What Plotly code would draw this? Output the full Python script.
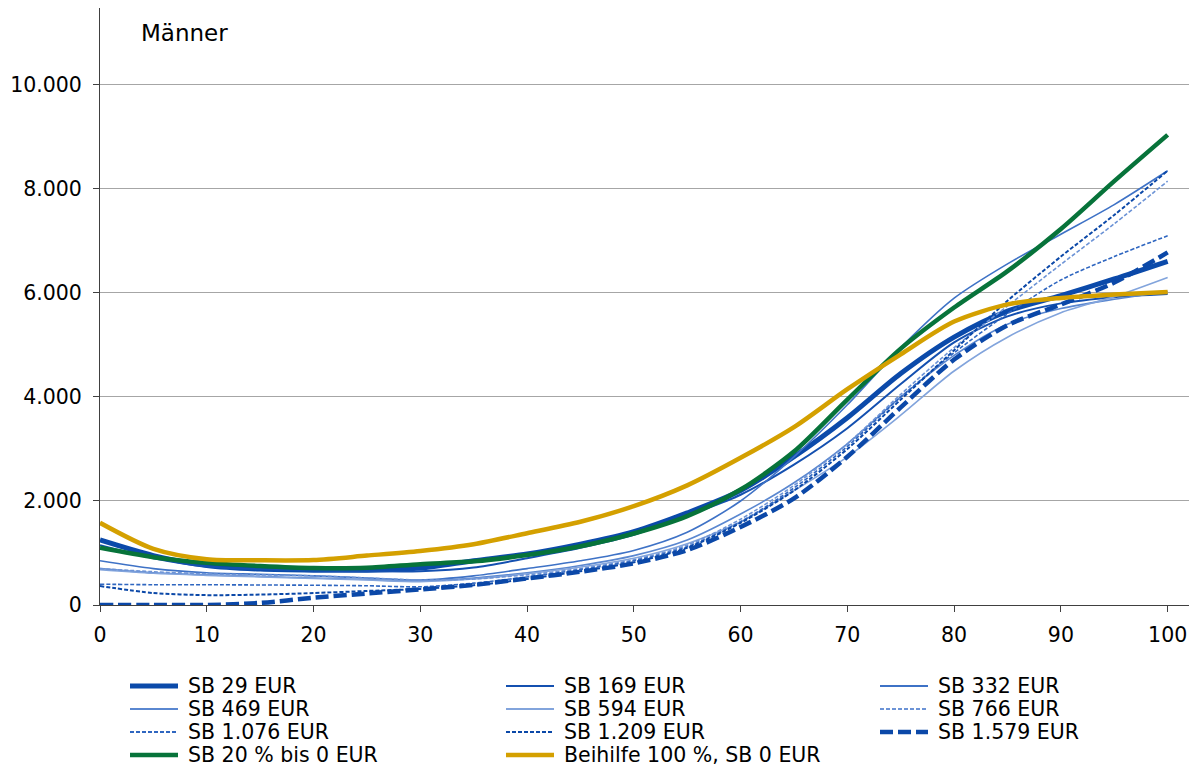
import plotly.graph_objects as go

ages = list(range(0, 101, 5))

sb29 = [1250, 950, 760, 690, 670, 670, 710, 850, 980, 1170, 1410, 1770, 2200, 2850, 3600, 4450, 5150, 5650, 5950, 6270, 6610]
sb169 = [1150, 900, 740, 690, 660, 650, 650, 720, 900, 1100, 1350, 1720, 2120, 2700, 3400, 4250, 5050, 5550, 5800, 5920, 5980]
sb332 = [850, 700, 620, 590, 560, 520, 480, 560, 700, 850, 1050, 1400, 2000, 2850, 3850, 4950, 5900, 6560, 7130, 7700, 8350]
sb469 = [700, 620, 580, 550, 520, 490, 460, 520, 620, 760, 950, 1250, 1750, 2350, 3100, 4000, 4800, 5400, 5700, 5880, 6030]
sb594 = [680, 610, 570, 540, 510, 480, 450, 500, 600, 730, 900, 1180, 1600, 2200, 2850, 3650, 4500, 5150, 5620, 5930, 6300]
sb766 = [700, 640, 600, 580, 560, 520, 480, 500, 580, 700, 870, 1150, 1650, 2300, 3100, 4050, 4950, 5750, 6550, 7330, 8150]
sb1076 = [400, 390, 390, 385, 380, 370, 350, 420, 540, 680, 850, 1120, 1600, 2250, 3050, 4000, 4850, 5600, 6250, 6700, 7100]
sb1209 = [365, 230, 190, 200, 230, 270, 310, 380, 500, 650, 820, 1100, 1580, 2200, 3000, 3950, 4900, 5850, 6700, 7500, 8350]
sb1579 = [0, 0, 0, 40, 140, 220, 300, 385, 510, 640, 800, 1055, 1500, 2050, 2850, 3800, 4720, 5380, 5780, 6200, 6780]
sb20 = [1100, 920, 810, 750, 710, 715, 785, 840, 960, 1130, 1375, 1710, 2220, 2950, 3950, 4930, 5720, 6420, 7230, 8150, 9040]
beihilfe = [1580, 1080, 880, 860, 865, 950, 1040, 1170, 1380, 1600, 1900, 2300, 2830, 3420, 4150, 4820, 5450, 5780, 5905, 5970, 6020]

names = ["SB 29 EUR", "SB 169 EUR", "SB 332 EUR", "SB 469 EUR", "SB 594 EUR", "SB 766 EUR",
         "SB 1.076 EUR", "SB 1.209 EUR", "SB 1.579 EUR", "SB 20 % bis 0 EUR", "Beihilfe 100 %, SB 0 EUR"]
series = [sb29, sb169, sb332, sb469, sb594, sb766, sb1076, sb1209, sb1579, sb20, beihilfe]

styles = [
    dict(color="#0b4aaa", width=5, dash="solid"),
    dict(color="#1450b0", width=2, dash="solid"),
    dict(color="#3e72c6", width=1.6, dash="solid"),
    dict(color="#5a87d0", width=1.6, dash="solid"),
    dict(color="#82a4dc", width=1.6, dash="solid"),
    dict(color="#6c93d6", width=1.6, dash="4px,2px"),
    dict(color="#2f66c0", width=1.6, dash="4px,2px"),
    dict(color="#0b48a8", width=2, dash="4px,2px"),
    dict(color="#0b48a8", width=4.5, dash="13px,5px"),
    dict(color="#07733a", width=4.5, dash="solid"),
    dict(color="#d4a000", width=4.5, dash="solid"),
]

fig = go.Figure()
for n, s, st in zip(names, series, styles):
    fig.add_trace(go.Scatter(x=ages, y=s, name=n, mode="lines", showlegend=False,
                             line=dict(color=st["color"], width=st["width"], dash=st["dash"],
                                       shape="spline", smoothing=0.8)))

font = "DejaVu Sans, Verdana, sans-serif"

# page offset of the figure (body margin)
OFF = 8
W, H = 1197 - OFF, 769 - OFF
L, R, T, B = 100 - OFF, 1189 - OFF, 0, 605 - OFF
pw, ph = R - L, B - T
col_x = [130 - OFF, 506 - OFF, 880 - OFF]
row_y = [686 - OFF, 709 - OFF, 732 - OFF, 755 - OFF]
shapes = []
annots = []
for i, (n, st) in enumerate(zip(names, styles)):
    r, c = divmod(i, 3)
    x0 = (col_x[c] - L) / pw
    x1 = (col_x[c] + 48 - L) / pw
    xt = (col_x[c] + 56 - L) / pw
    yy = (B - row_y[r]) / ph
    shapes.append(dict(type="line", xref="paper", yref="paper", x0=x0, x1=x1, y0=yy, y1=yy,
                       line=dict(color=st["color"], width=max(st["width"], 1.8), dash=st["dash"])))
    annots.append(dict(xref="paper", yref="paper", x=xt, y=yy, text=n, showarrow=False,
                       xanchor="left", yanchor="middle", font=dict(size=20.5, family=font)))

annots.append(dict(x=3.65, y=11000, xref="x", yref="y", text="Männer", showarrow=False,
                   xanchor="left", yanchor="middle", font=dict(size=23, family=font)))

fig.update_layout(
    width=W, height=H,
    margin=dict(l=L, r=W - R, t=T, b=H - B, pad=0, autoexpand=False),
    paper_bgcolor="white", plot_bgcolor="white",
    separators=",.",
    font=dict(family=font, size=20.5, color="#000000"),
    showlegend=False,
    shapes=shapes,
    annotations=annots,
)
fig.update_xaxes(range=[0, 102], tickvals=list(range(0, 101, 10)), showgrid=False,
                 showline=True, linecolor="#404040", linewidth=1, ticks="outside",
                 ticklen=6, tickcolor="#404040", zeroline=False, tickfont=dict(size=20.5),
                 ticklabelstandoff=5, automargin=False)
fig.update_yaxes(range=[0, 11480], tickvals=list(range(0, 10001, 2000)), tickformat=",d",
                 showgrid=True, gridcolor="#a6a6a6", gridwidth=1, showline=True,
                 linecolor="#404040", linewidth=1, ticks="outside", ticklen=6,
                 tickcolor="#404040", zeroline=False, tickfont=dict(size=20.5),
                 ticklabelstandoff=7, automargin=False)

fig.write_html("out.html")
